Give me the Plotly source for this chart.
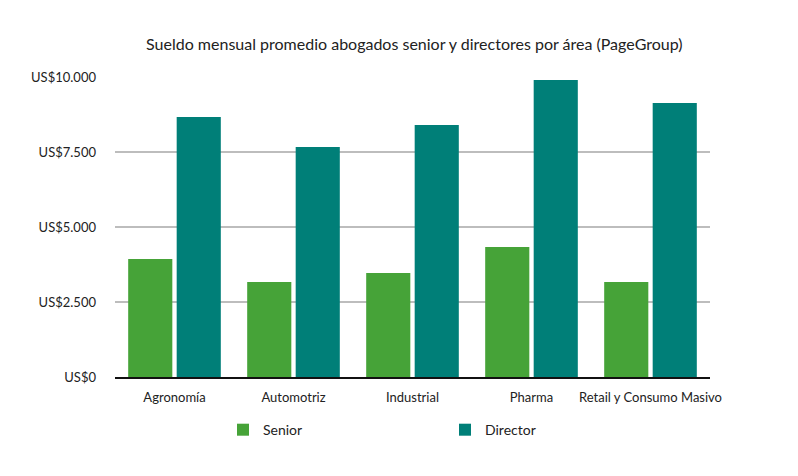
import plotly.graph_objects as go

categories = ["Agronomía", "Automotriz", "Industrial", "Pharma", "Retail y Consumo Masivo"]
senior = [3930, 3170, 3470, 4330, 3170]
director = [8670, 7670, 8400, 9900, 9130]
tick_vals = [0, 2500, 5000, 7500, 10000]
tick_text = ["US$" + f"{v:,}".replace(",", ".") for v in tick_vals]

FONT = "Lato, Roboto, sans-serif"

fig = go.Figure()
fig.add_trace(go.Bar(name="Senior", x=categories, y=senior, marker_color="#46a338", marker_line_width=0))
fig.add_trace(go.Bar(name="Director", x=categories, y=director, marker_color="#007f78", marker_line_width=0))

fig.update_layout(
    width=798, height=476,
    margin=dict(l=115, r=88, t=77, b=99),
    paper_bgcolor="white", plot_bgcolor="white",
    barmode="group", bargap=0.185, bargroupgap=0.09,
    font=dict(family=FONT, size=13, color="#222222"),
    title=dict(text="Sueldo mensual promedio abogados senior y directores por área (PageGroup)",
               x=0.503, xref="paper", xanchor="center", y=1 - 44/476, yanchor="middle",
               font=dict(family=FONT, size=16, color="#222222")),
    showlegend=True,
    legend=dict(orientation="h", x=0.1815, xanchor="left", y=-0.177, yanchor="middle",
                entrywidth=177, entrywidthmode="pixels", font=dict(size=14),
                itemclick=False),
)
fig.update_yaxes(range=[0, 10000], tickvals=tick_vals, ticktext=tick_text,
                 showgrid=True, gridcolor="#bdbdbd", gridwidth=1.5, zeroline=False,
                 ticks="", ticklabelstandoff=18, showline=False)
fig.update_xaxes(showline=True, linecolor="#111111", linewidth=2, ticks="", showgrid=False,
                 ticklabelstandoff=7)

fig.write_html("out.html")
